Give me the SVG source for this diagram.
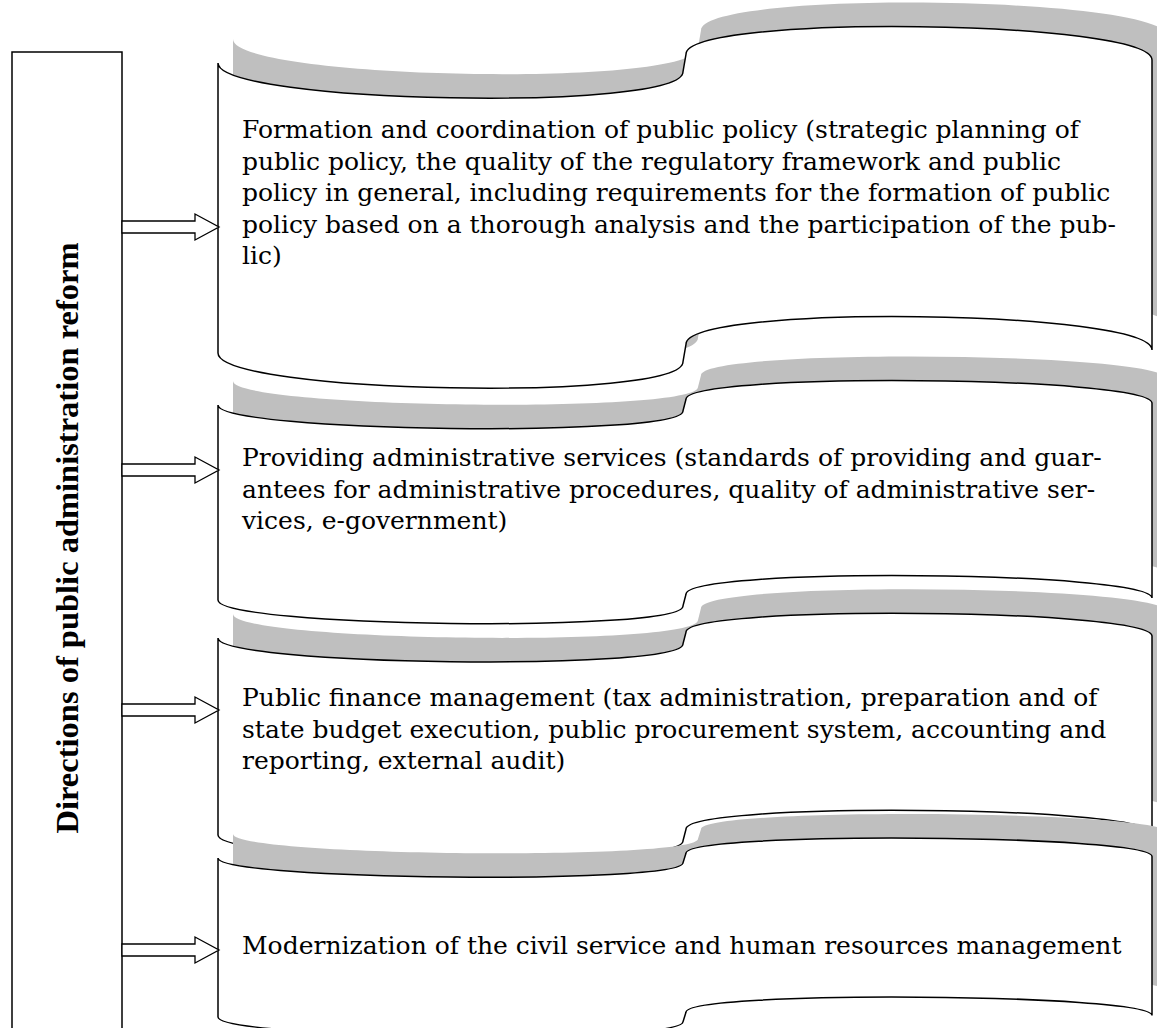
<svg xmlns="http://www.w3.org/2000/svg" width="1157" height="1028" viewBox="0 0 1157 1028">
<style>
.shadow{fill:#bfbfbf;stroke:none}
.scroll{fill:#fff;stroke:#000;stroke-width:1.5}
.box{fill:#fff;stroke:#000;stroke-width:1.5}
.arrow{fill:#fff;stroke:#000;stroke-width:1.3}
.t{font-family:"DejaVu Serif","Liberation Serif",serif;font-size:25px;fill:#000}
.vt{font-family:"Liberation Serif","Times New Roman",serif;font-size:32.5px;font-weight:bold;fill:#000}
</style>
<defs>
<path id="arr" d="M0,-6 H73 V-13 L97,0 L73,13 V6 H0 Z"/>
</defs>
<rect width="1157" height="1028" fill="#fff"/>

<g id="directions">
<path class="box" d="M12,1040 V52 H122 V1040"/>
<text class="vt" transform="translate(78,538) rotate(-90)" text-anchor="middle">Directions of public administration reform</text>
</g>

<g id="scroll1">
<path class="shadow" transform="translate(15,-24)" d="M218,63 C218,103.6 683,112.3 683,71.7 L686,54.3 C686,13.7 1152,19.5 1152,60.1 L1152,350.1 C1152,309.5 686,303.7 686,344.3 L683,361.7 C683,402.3 218,393.6 218,353 Z"/>
<path class="scroll" d="M218,63 C218,103.6 683,112.3 683,71.7 L686,54.3 C686,13.7 1152,19.5 1152,60.1 L1152,350.1 C1152,309.5 686,303.7 686,344.3 L683,361.7 C683,402.3 218,393.6 218,353 Z"/>
<text class="t" x="242" y="138">Formation and coordination of public policy (strategic planning of</text>
<text class="t" x="242" y="169.5">public policy, the quality of the regulatory framework and public</text>
<text class="t" x="242" y="201">policy in general, including requirements for the formation of public</text>
<text class="t" x="242" y="232.5">policy based on a thorough analysis and the participation of the pub-</text>
<text class="t" x="242" y="264">lic)</text>
</g>

<g id="scroll2">
<path class="shadow" transform="translate(15,-24)" d="M218,405 C218,432.3 683,438.2 683,410.9 L686,399.2 C686,371.9 1152,375.8 1152,403.1 L1152,598.1 C1152,570.8 686,566.9 686,594.2 L683,605.9 C683,633.2 218,627.3 218,600 Z"/>
<path class="scroll" d="M218,405 C218,432.3 683,438.2 683,410.9 L686,399.2 C686,371.9 1152,375.8 1152,403.1 L1152,598.1 C1152,570.8 686,566.9 686,594.2 L683,605.9 C683,633.2 218,627.3 218,600 Z"/>
<text class="t" x="242" y="466">Providing administrative services (standards of providing and guar-</text>
<text class="t" x="242" y="497.5">antees for administrative procedures, quality of administrative ser-</text>
<text class="t" x="242" y="529">vices, e-government)</text>
</g>

<g id="scroll3">
<path class="shadow" transform="translate(15,-24)" d="M218,638 C218,665.6 683,671.5 683,643.9 L686,632.1 C686,604.5 1152,608.5 1152,636 L1152,833 C1152,805.5 686,801.5 686,829.1 L683,840.9 C683,868.5 218,862.6 218,835 Z"/>
<path class="scroll" d="M218,638 C218,665.6 683,671.5 683,643.9 L686,632.1 C686,604.5 1152,608.5 1152,636 L1152,833 C1152,805.5 686,801.5 686,829.1 L683,840.9 C683,868.5 218,862.6 218,835 Z"/>
<text class="t" x="242" y="706">Public finance management (tax administration, preparation and of</text>
<text class="t" x="242" y="737.5">state budget execution, public procurement system, accounting and</text>
<text class="t" x="242" y="769">reporting, external audit)</text>
</g>

<g id="scroll4">
<path class="shadow" transform="translate(15,-24)" d="M218,858 C218,880.3 683,885 683,862.8 L686,853.2 C686,831 1152,834.2 1152,856.4 L1152,1015.4 C1152,993.2 686,990 686,1012.2 L683,1021.8 C683,1044 218,1039.3 218,1017 Z"/>
<path class="scroll" d="M218,858 C218,880.3 683,885 683,862.8 L686,853.2 C686,831 1152,834.2 1152,856.4 L1152,1015.4 C1152,993.2 686,990 686,1012.2 L683,1021.8 C683,1044 218,1039.3 218,1017 Z"/>
<text class="t" x="242" y="954">Modernization of the civil service and human resources management</text>
</g>

<g id="connectors">
<use href="#arr" class="arrow" transform="translate(122,227)"/>
<use href="#arr" class="arrow" transform="translate(122,470)"/>
<use href="#arr" class="arrow" transform="translate(122,710)"/>
<use href="#arr" class="arrow" transform="translate(122,950)"/>
</g>
</svg>
